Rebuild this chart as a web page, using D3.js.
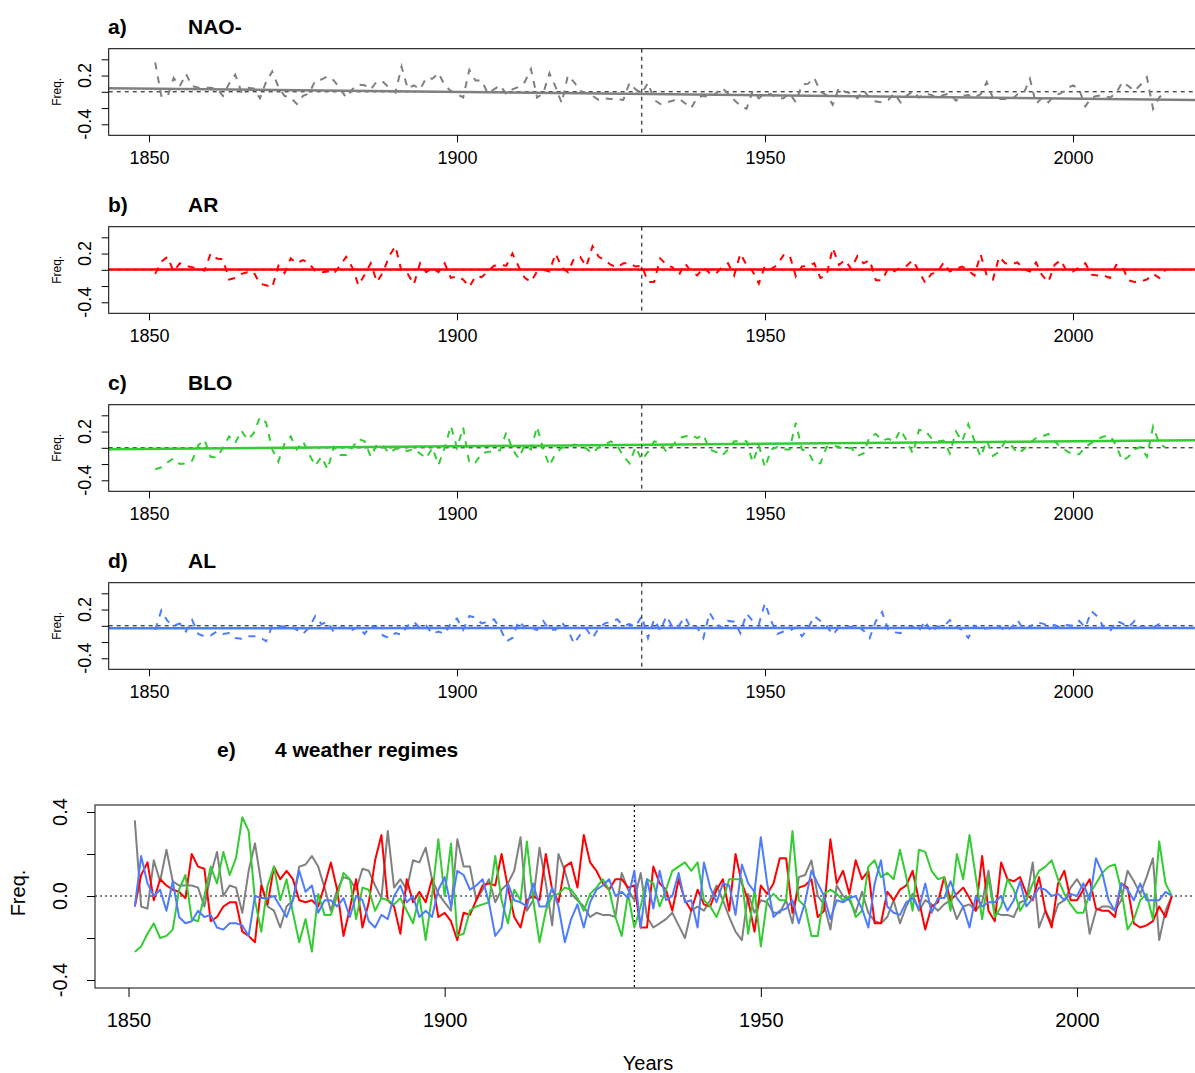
<!DOCTYPE html>
<html><head><meta charset="utf-8">
<script src="https://cdn.jsdelivr.net/npm/d3@7"></script>
<style>body{margin:0;background:#fff} svg{display:block;font-family:"Liberation Sans",Arial,Helvetica,sans-serif}</style>
</head><body><svg id="c" width="1195" height="1073"></svg>
<script>
const startYear = 1851;
const nao = [
 0.36,-0.05,-0.06,0.17,0.07,0.22,0.07,0.05,0.05,0.05,
 0.04,-0.05,0.10,0.21,0.00,0.05,0.04,-0.08,0.12,0.25,
 0.06,-0.05,-0.07,-0.15,-0.05,-0.02,0.14,0.15,0.19,0.14,
 0.04,-0.07,0.03,0.09,0.08,0.03,0.13,0.12,0.05,-0.01,
 0.31,0.04,0.08,0.03,0.17,0.16,0.23,0.08,0.01,-0.03,
 -0.07,0.27,0.14,0.14,-0.02,0.03,0.08,-0.03,0.03,0.06,
 0.12,0.28,-0.07,-0.02,0.23,0.06,-0.14,0.20,0.12,0.01,
 -0.02,-0.05,-0.10,-0.08,-0.09,-0.09,-0.10,0.11,0.03,-0.02,
 0.11,-0.10,-0.15,-0.13,-0.11,-0.08,-0.14,-0.20,-0.07,-0.05,
 -0.07,-0.02,0.05,-0.02,-0.10,-0.17,-0.21,0.01,-0.08,-0.02,
 -0.03,-0.08,-0.08,-0.02,-0.13,0.09,0.10,0.17,0.00,-0.04,
 -0.16,0.05,0.00,-0.02,-0.08,0.02,-0.08,-0.12,-0.13,-0.10,
 -0.02,-0.13,-0.05,0.01,-0.07,-0.02,-0.04,-0.07,-0.04,-0.02,
 -0.11,-0.05,-0.04,-0.07,-0.03,0.12,-0.08,-0.09,-0.09,-0.10,
 -0.03,-0.02,0.16,-0.15,-0.07,-0.13,-0.04,-0.02,0.04,0.08,
 0.03,-0.18,-0.07,-0.05,-0.05,-0.07,-0.02,0.12,0.07,0.01,
 0.09,0.18,-0.21,-0.07,0.00];
const ar = [
 -0.05,0.10,0.16,-0.02,0.08,0.05,0.03,0.02,-0.01,0.20,
 0.14,0.13,-0.12,-0.10,-0.05,-0.03,-0.03,-0.17,-0.19,-0.22,
 0.05,-0.04,0.14,0.08,0.12,0.08,-0.02,-0.03,-0.02,-0.05,
 0.05,0.16,0.03,-0.19,-0.06,0.08,-0.15,-0.03,0.17,0.29,
 -0.02,-0.05,-0.18,0.08,-0.03,0.02,-0.03,0.08,-0.10,-0.08,
 -0.12,-0.21,-0.08,-0.09,-0.02,0.05,0.06,0.05,0.20,0.04,
 -0.10,-0.15,-0.02,0.00,-0.02,0.20,0.03,-0.03,0.14,0.16,
 0.04,0.29,0.16,0.12,0.06,0.03,0.08,0.08,0.04,0.05,
 -0.15,-0.15,0.14,0.06,0.03,-0.07,0.08,-0.02,-0.07,0.03,
 -0.04,-0.05,0.03,0.08,-0.07,0.20,0.06,-0.02,-0.17,0.05,
 0.01,0.06,0.18,0.18,-0.08,0.04,0.05,0.08,-0.10,-0.07,
 0.27,0.06,0.12,0.01,0.17,0.08,0.12,-0.13,-0.13,0.02,
 -0.02,0.03,0.05,0.12,-0.02,-0.16,-0.05,-0.03,0.09,-0.02,
 0.01,0.04,-0.01,-0.07,0.19,-0.07,-0.12,0.16,0.08,0.07,
 0.09,0.01,-0.02,0.09,-0.07,-0.15,0.06,0.12,-0.02,-0.02,
 0.03,0.08,-0.06,-0.07,-0.07,-0.10,0.06,0.04,-0.13,-0.15,
 -0.14,-0.12,-0.05,-0.10,0.00];
const blo = [
 -0.265,-0.24,-0.18,-0.13,-0.20,-0.19,-0.16,0.03,0.10,-0.11,
 -0.12,0.00,0.14,0.06,0.21,0.10,0.18,0.375,0.31,-0.02,
 -0.17,0.05,0.14,-0.02,0.08,-0.08,-0.22,-0.11,-0.265,0.01,
 -0.09,-0.09,0.00,0.11,0.08,-0.11,0.04,0.03,-0.07,-0.01,
 -0.02,-0.04,-0.01,-0.07,-0.13,0.00,-0.21,0.00,0.27,0.00,
 0.25,-0.19,-0.18,-0.07,-0.05,-0.04,-0.03,0.19,-0.02,-0.13,
 0.03,-0.02,0.26,-0.02,-0.22,-0.07,0.00,0.01,0.04,0.03,
 -0.01,-0.07,0.01,0.04,0.08,0.03,-0.10,-0.19,0.01,-0.15,
 -0.05,0.08,0.06,-0.05,0.03,0.12,0.14,0.16,0.12,0.16,
 -0.02,-0.05,-0.10,-0.02,0.08,0.08,0.08,-0.18,0.03,-0.24,
 -0.02,0.01,-0.02,-0.02,0.31,-0.02,-0.05,-0.19,-0.19,0.01,
 0.03,0.01,-0.02,0.00,-0.10,-0.07,0.14,0.17,0.09,0.11,
 0.08,0.22,0.09,-0.07,0.22,0.21,0.12,0.08,0.09,-0.07,
 0.20,0.08,0.29,0.09,-0.11,0.09,-0.10,-0.05,0.08,0.03,
 -0.07,-0.02,0.06,0.12,0.14,0.17,0.08,0.01,-0.04,-0.08,
 -0.08,0.01,0.06,0.11,0.14,0.15,0.03,-0.16,-0.11,-0.02,
 0.01,-0.11,0.26,0.06,0.00];
const al = [
 -0.05,0.19,0.06,0.00,0.03,-0.07,0.07,-0.10,-0.13,-0.12,
 -0.07,-0.10,-0.09,-0.15,-0.16,-0.13,-0.13,-0.14,-0.19,0.00,
 -0.01,-0.01,0.00,-0.05,-0.10,-0.02,0.12,0.02,0.05,-0.08,
 -0.02,-0.02,-0.05,-0.01,-0.10,0.00,-0.02,-0.12,-0.15,-0.09,
 -0.11,0.00,0.05,-0.03,0.00,-0.10,-0.07,-0.10,0.03,0.09,
 -0.05,0.12,0.10,0.03,0.05,0.08,-0.03,-0.19,-0.15,0.06,
 -0.02,-0.03,-0.05,0.06,-0.05,-0.05,0.04,-0.05,-0.22,-0.11,
 -0.04,-0.15,-0.03,0.03,0.05,0.08,0.00,0.02,-0.01,0.12,
 -0.15,0.08,-0.06,0.12,-0.02,0.00,0.11,-0.03,-0.02,-0.15,
 0.16,0.04,-0.03,0.06,0.05,-0.09,0.15,0.06,0.02,0.28,
 0.06,-0.10,-0.07,-0.06,-0.02,-0.13,-0.03,0.12,0.06,0.00,
 -0.11,-0.02,-0.03,-0.01,0.00,-0.06,-0.15,0.06,0.17,-0.05,
 -0.08,-0.09,-0.03,-0.01,-0.06,0.06,-0.08,-0.01,-0.01,0.07,
 -0.01,-0.05,-0.15,0.00,-0.05,-0.03,-0.03,0.00,-0.07,-0.02,
 0.07,-0.05,-0.01,0.04,0.03,0.00,0.01,-0.02,0.01,0.00,
 0.06,-0.02,0.18,0.11,-0.02,-0.07,0.06,0.03,-0.02,0.06,
 -0.02,-0.02,-0.02,0.02,0.00];
// fitted trend line values at the first and last year
const trendFirst = [0.037, 0.003, -0.012, -0.030];
const trendLast  = [-0.096, 0.003, 0.090, -0.026];
const seriesNames = ["NAO-","AR","BLO","AL"];
const panelLetters = ["a)","b)","c)","d)"];
const seriesColors = ["#808080","#ff0000","#33cc33","#4d7cff"];
const xTicks = [1850,1900,1950,2000];
const ySmallTicks = [-0.4,-0.2,0,0.2,0.4];
const ySmallLabels = [0.2,-0.4];
const yBigTicks = [-0.4,-0.2,0,0.2,0.4];
const yBigLabels = [-0.4,0,0.4];
const breakYear = 1930;

const allSeries = [nao, ar, blo, al];
const years = nao.map((_, i) => startYear + i);
const lastYear = years[years.length-1];
const svg = d3.select("#c");
const FONT = '"Liberation Sans",Arial,Helvetica,sans-serif';
const fmt1 = v => d3.format(".1f")(v).replace("\u2212","-");

// small panels
allSeries.forEach((vals, p) => {
  const off = p*178;
  const L = 108.7, R = 1210, T = 48.7+off, B = 135.3+off;
  const x = d3.scaleLinear().domain([1850,2000]).range([149,1073]);
  const y = d3.scaleLinear().domain([-0.4,0.4]).range([124.3+off, 59.3+off]);
  const g = svg.append("g");
  const cid = "clip"+p;
  svg.append("clipPath").attr("id",cid).append("rect").attr("x",L).attr("y",T).attr("width",R-L).attr("height",B-T);
  const pg = g.append("g").attr("clip-path",`url(#${cid})`);
  pg.append("line").attr("x1",L).attr("x2",R).attr("y1",y(0)).attr("y2",y(0))
    .attr("stroke","#000").attr("stroke-width",1).attr("stroke-dasharray","4,4");
  const line = d3.line().x((d,i)=>x(years[i])).y(d=>y(d));
  pg.append("path").datum(vals).attr("d",line).attr("fill","none")
    .attr("stroke",seriesColors[p]).attr("stroke-width",2).attr("stroke-dasharray","7,7");
  const slope = (trendLast[p]-trendFirst[p])/(lastYear-startYear);
  const tv = yr => trendFirst[p] + slope*(yr-startYear);
  const x0 = x.invert(L), x1 = x.invert(R);
  pg.append("line").attr("x1",L).attr("x2",R).attr("y1",y(tv(x0))).attr("y2",y(tv(x1)))
    .attr("stroke",seriesColors[p]).attr("stroke-width",2.5);
  pg.append("line").attr("x1",x(breakYear)).attr("x2",x(breakYear)).attr("y1",T).attr("y2",B)
    .attr("stroke","#000").attr("stroke-width",1).attr("stroke-dasharray","4,4");
  g.append("rect").attr("x",L).attr("y",T).attr("width",R-L).attr("height",B-T)
    .attr("fill","none").attr("stroke","#000").attr("stroke-width",1);
  const xa = g.append("g").attr("transform",`translate(0,${B})`)
    .call(d3.axisBottom(x).tickValues(xTicks).tickFormat(d3.format("d")).tickSize(7).tickPadding(9));
  xa.select(".domain").remove();
  xa.selectAll("text").attr("font-size",18).attr("font-family",FONT).attr("fill","#000");
  const ya = g.append("g").attr("transform",`translate(${L},0)`)
    .call(d3.axisLeft(y).tickValues(ySmallTicks).tickSize(7).tickFormat(""));
  ya.select(".domain").remove();
  ySmallLabels.forEach(v => {
    g.append("text").attr("transform",`translate(${L-18},${y(v)}) rotate(-90)`)
      .attr("text-anchor","middle").attr("font-size",18).attr("font-family",FONT).text(fmt1(v));
  });
  g.append("text").attr("transform",`translate(${61},${y(0)}) rotate(-90)`)
    .attr("text-anchor","middle").attr("font-size",12).attr("font-family",FONT).text("Freq.");
  g.append("text").attr("x",108).attr("y",34+off).attr("font-size",21).attr("font-weight","bold").attr("font-family",FONT).text(panelLetters[p]);
  g.append("text").attr("x",188).attr("y",34+off).attr("font-size",21).attr("font-weight","bold").attr("font-family",FONT).text(seriesNames[p]);
});

// big panel e
{
  const L = 95, R = 1210, T = 805, B = 988;
  const x = d3.scaleLinear().domain([1850,2000]).range([128.5,1077]);
  const y = d3.scaleLinear().domain([-0.4,0.4]).range([980,812]);
  const g = svg.append("g");
  svg.append("clipPath").attr("id","clipE").append("rect").attr("x",L).attr("y",T).attr("width",R-L).attr("height",B-T);
  const pg = g.append("g").attr("clip-path","url(#clipE)");
  pg.append("line").attr("x1",L).attr("x2",R).attr("y1",y(0)).attr("y2",y(0))
    .attr("stroke","#000").attr("stroke-width",1.2).attr("stroke-dasharray","2,3");
  pg.append("line").attr("x1",x(breakYear)).attr("x2",x(breakYear)).attr("y1",T).attr("y2",B)
    .attr("stroke","#000").attr("stroke-width",1.2).attr("stroke-dasharray","2,3");
  const line = d3.line().x((d,i)=>x(years[i])).y(d=>y(d));
  allSeries.forEach((vals,p)=>{
    pg.append("path").datum(vals).attr("d",line).attr("fill","none")
      .attr("stroke",seriesColors[p]).attr("stroke-width",2).attr("stroke-linejoin","round");
  });
  g.append("rect").attr("x",L).attr("y",T).attr("width",R-L).attr("height",B-T)
    .attr("fill","none").attr("stroke","#333").attr("stroke-width",1.2);
  const xa = g.append("g").attr("transform",`translate(0,${B})`)
    .call(d3.axisBottom(x).tickValues(xTicks).tickFormat(d3.format("d")).tickSize(9).tickPadding(16));
  xa.select(".domain").remove();
  xa.selectAll("text").attr("font-size",20).attr("font-family",FONT).attr("fill","#000");
  const ya = g.append("g").attr("transform",`translate(${L},0)`)
    .call(d3.axisLeft(y).tickValues(yBigTicks).tickSize(8).tickFormat(""));
  ya.select(".domain").remove();
  yBigLabels.forEach(v => {
    g.append("text").attr("transform",`translate(${L-28},${y(v)}) rotate(-90)`)
      .attr("text-anchor","middle").attr("font-size",20).attr("font-family",FONT).text(fmt1(v));
  });
  g.append("text").attr("transform",`translate(25,893) rotate(-90)`)
    .attr("text-anchor","middle").attr("font-size",20).attr("font-family",FONT).text("Freq.");
  g.append("text").attr("x",648).attr("y",1070).attr("text-anchor","middle").attr("font-size",20).attr("font-family",FONT).text("Years");
  g.append("text").attr("x",217).attr("y",757).attr("font-size",21).attr("font-weight","bold").attr("font-family",FONT).text("e)");
  g.append("text").attr("x",275).attr("y",757).attr("font-size",21).attr("font-weight","bold").attr("font-family",FONT).text("4 weather regimes");
}
</script></body></html>
